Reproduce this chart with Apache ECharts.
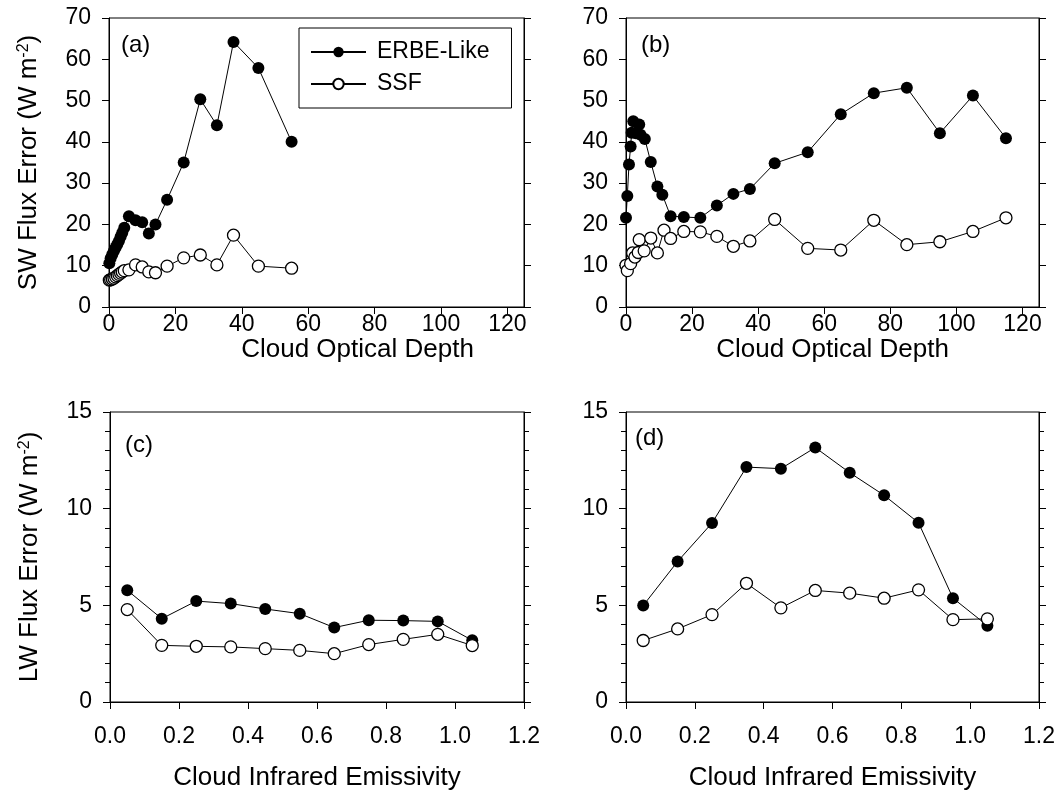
<!DOCTYPE html>
<html>
<head>
<meta charset="utf-8">
<script src="https://cdn.jsdelivr.net/npm/echarts@6/dist/echarts.min.js"></script>
<style>
html,body{margin:0;padding:0;background:#fff;}
#chart{width:1060px;height:795px;}
</style>
</head>
<body>
<div id="chart"></div>
<script>
// ---------- data ----------
// Panel (a): SW flux error vs cloud optical depth
const tauA = [0.1, 0.5, 1, 1.5, 2, 2.5, 3, 3.5, 4, 4.6, 6, 8, 10, 12, 14, 17.5, 22.5, 27.5, 32.5, 37.5, 45, 55];
const erbeA = [10.6, 11.8, 12.8, 13.6, 14.4, 15.2, 16.0, 17.0, 18.0, 19.2, 22.0, 21.0, 20.5, 17.8, 20.0, 26.0, 35.0, 50.3, 44.0, 64.2, 57.9, 40.0];
const ssfA  = [6.5, 6.6, 6.8, 7.0, 7.3, 7.6, 7.9, 8.2, 8.5, 8.8, 9.0, 10.2, 9.7, 8.5, 8.3, 9.9, 11.9, 12.6, 10.2, 17.4, 9.9, 9.4];

// Panel (b)
const tauBerbe = [0, 0.4, 0.9, 1.4, 1.7, 2.2, 3.0, 4.0, 4.4, 5.7, 7.5, 9.5, 11, 13.5, 17.5, 22.5, 27.5, 32.5, 37.5, 45, 55, 65, 75, 85, 95, 105, 115];
const erbeB = [21.6, 26.9, 34.5, 38.9, 42.2, 45.0, 42.1, 44.2, 41.7, 40.7, 35.1, 29.2, 27.2, 22.0, 21.8, 21.6, 24.6, 27.4, 28.6, 34.8, 37.5, 46.7, 51.8, 53.1, 42.1, 51.2, 40.9];
const tauBssf = [0, 0.4, 1.4, 2.0, 2.7, 3.7, 4.0, 5.5, 7.5, 9.5, 11.5, 13.5, 17.5, 22.5, 27.5, 32.5, 37.5, 45, 55, 65, 75, 85, 95, 105, 115];
const ssfB = [10.1, 8.8, 10.5, 13.1, 12.1, 13.2, 16.3, 13.6, 16.7, 13.1, 18.6, 16.6, 18.3, 18.2, 17.1, 14.7, 16.0, 21.2, 14.2, 13.8, 21.0, 15.1, 15.8, 18.3, 21.6];

// Panels (c), (d): LW flux error vs cloud infrared emissivity
const emis = [0.05, 0.15, 0.25, 0.35, 0.45, 0.55, 0.65, 0.75, 0.85, 0.95, 1.05];
const erbeC = [5.78, 4.31, 5.22, 5.09, 4.81, 4.57, 3.85, 4.23, 4.21, 4.17, 3.19];
const ssfC  = [4.78, 2.93, 2.88, 2.85, 2.76, 2.67, 2.50, 2.97, 3.24, 3.50, 2.92];
const erbeD = [4.99, 7.27, 9.26, 12.15, 12.07, 13.16, 11.86, 10.69, 9.27, 5.37, 3.95];
const ssfD  = [3.18, 3.78, 4.52, 6.14, 4.87, 5.77, 5.63, 5.37, 5.80, 4.26, 4.30];

const tauTicks = [0, 20, 40, 60, 80, 100, 120];
const emisTicks = [0, 0.2, 0.4, 0.6, 0.8, 1.0, 1.2];
const panelLabels = ['(a)', '(b)', '(c)', '(d)'];
const seriesNames = ['ERBE-Like', 'SSF'];
const xTitles = ['Cloud Optical Depth', 'Cloud Infrared Emissivity'];
const yTitles = ['SW Flux Error (W m{sup|-2})', 'LW Flux Error (W m{sup|-2})'];

// ---------- chart ----------
const FONT = "'Liberation Sans', Arial, Helvetica, sans-serif";
const pairs = (xs, ys) => xs.map((x, i) => [x, ys[i]]);

const grids = [
  {left: 109, top: 18, width: 415, height: 289},
  {left: 626, top: 18, width: 413, height: 289},
  {left: 110, top: 412, width: 414, height: 290},
  {left: 626, top: 412, width: 413, height: 290}
].map(g => Object.assign(g, {show: true, borderColor: '#000', borderWidth: 1, containLabel: false}));

function xAxisFor(i) {
  const top = i < 2;
  return {
    type: 'value', gridIndex: i, min: 0, max: top ? 125 : 1.2,
    interval: top ? 20 : 0.2,
    splitLine: {show: false},
    axisLine: {show: true, onZero: false, lineStyle: {color: '#000', width: 1}},
    axisTick: {show: true, length: 7, lineStyle: {color: '#000'}, customValues: top ? tauTicks : emisTicks},
    axisLabel: {
      color: '#000', fontSize: 23, fontFamily: FONT, margin: top ? 6 : 23,
      customValues: top ? tauTicks : emisTicks,
      formatter: v => top ? String(Math.round(v)) : (Math.round(v * 10) / 10).toFixed(1)
    },
    name: top ? xTitles[0] : xTitles[1],
    nameLocation: 'middle',
    nameGap: top ? 26 : 63,
    nameTextStyle: {color: '#000', fontSize: 26, fontFamily: FONT, padding: i === 0 ? [0, 0, 0, 82] : 0}
  };
}

function yAxisFor(i, right) {
  const top = i < 2;
  const ax = {
    type: 'value', gridIndex: i, min: 0, max: top ? 70 : 15, interval: top ? 10 : 5,
    position: right ? 'right' : 'left',
    splitLine: {show: false},
    axisLine: {show: true, onZero: false, lineStyle: {color: '#000', width: 1}},
    axisTick: {show: true, length: 7, lineStyle: {color: '#000'}},
    minorTick: {show: !top, splitNumber: 5, length: 5, lineStyle: {color: '#000'}},
    axisLabel: {show: !right, color: '#000', fontSize: 23, fontFamily: FONT, margin: 18}
  };
  if (!right && (i === 0 || i === 2)) {
    ax.name = top ? yTitles[0] : yTitles[1];
    ax.nameLocation = 'middle';
    ax.nameGap = 67;
    ax.nameTextStyle = {
      color: '#000', fontSize: 26, fontFamily: FONT,
      rich: {sup: {fontSize: 16, fontFamily: FONT, color: '#000', verticalAlign: 'top', lineHeight: 12}}
    };
  }
  return ax;
}

const xAxes = [0, 1, 2, 3].map(xAxisFor);
const yAxes = [0, 1, 2, 3].map(i => yAxisFor(i, false)).concat([0, 1, 2, 3].map(i => yAxisFor(i, true)));

const erbeStyle = {
  type: 'line', name: seriesNames[0], symbol: 'circle', symbolSize: 12,
  itemStyle: {color: '#000', borderColor: '#000', borderWidth: 0},
  lineStyle: {color: '#000', width: 1}, animation: false, z: 2
};
const ssfStyle = {
  type: 'line', name: seriesNames[1], symbol: 'circle', symbolSize: 12,
  itemStyle: {color: '#fff', borderColor: '#000', borderWidth: 1.3},
  lineStyle: {color: '#000', width: 1}, animation: false, z: 3
};
const mk = (base, i, data) => Object.assign({}, base, {xAxisIndex: i, yAxisIndex: i, data: data});

const series = [
  mk(erbeStyle, 0, pairs(tauA, erbeA)),
  mk(ssfStyle, 0, pairs(tauA, ssfA)),
  mk(erbeStyle, 1, pairs(tauBerbe, erbeB)),
  mk(ssfStyle, 1, pairs(tauBssf, ssfB)),
  mk(erbeStyle, 2, pairs(emis, erbeC)),
  mk(ssfStyle, 2, pairs(emis, ssfC)),
  mk(erbeStyle, 3, pairs(emis, erbeD)),
  mk(ssfStyle, 3, pairs(emis, ssfD))
];

const labelPos = [[121, 33], [641, 33], [125, 433], [635, 426]];
const titles = panelLabels.map((t, i) => ({
  text: t, left: labelPos[i][0], top: labelPos[i][1], padding: 0,
  textStyle: {color: '#000', fontSize: 24, fontWeight: 'normal', fontFamily: FONT}
}));

const chart = echarts.init(document.getElementById('chart'), null, {renderer: 'canvas'});
chart.setOption({
  backgroundColor: '#fff',
  animation: false,
  title: titles,
  legend: {
    data: seriesNames, orient: 'vertical', left: 299, top: 28,
    padding: [12, 22, 12, 11], itemGap: 8, itemWidth: 55, itemHeight: 13,
    borderColor: '#000', borderWidth: 1, selectedMode: false,
    textStyle: {color: '#000', fontSize: 23, fontFamily: FONT, lineHeight: 24, padding: [0, 0, 0, 6]}
  },
  grid: grids,
  xAxis: xAxes,
  yAxis: yAxes,
  series: series
});
</script>
</body>
</html>
